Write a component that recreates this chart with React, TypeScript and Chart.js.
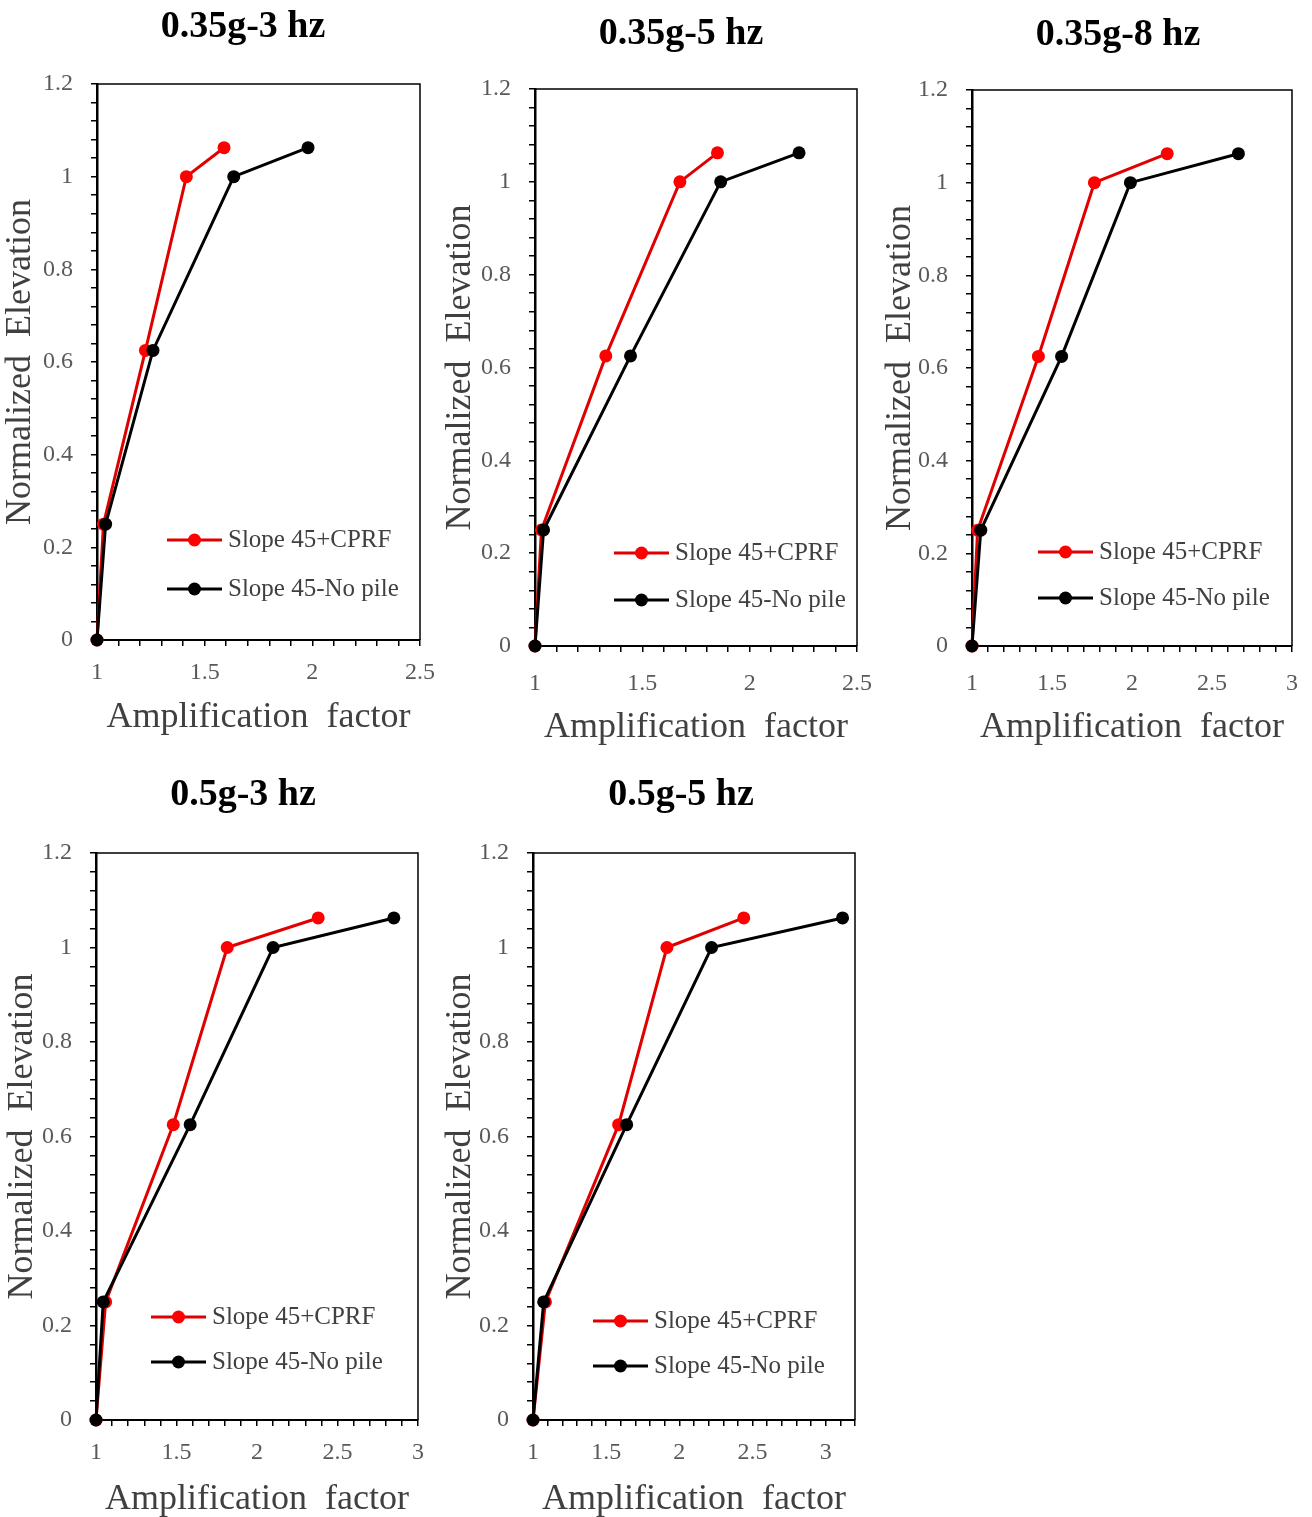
import React, { useEffect, useRef } from 'react';
import { Chart, registerables } from 'chart.js';

Chart.register(...registerables);

// ---------- data ----------
const SERIES_NAMES = ['Slope 45+CPRF', 'Slope 45-No pile'];
const TITLES = ['0.35g-3 hz', '0.35g-5 hz', '0.35g-8 hz', '0.5g-3 hz', '0.5g-5 hz'];

// normalized elevation of the measuring points (same for every panel)
const Y_VALUES = [0, 0.25, 0.625, 1.0, 1.0625];
const Y_TICKS = [0, 0.2, 0.4, 0.6, 0.8, 1, 1.2];

// amplification factors
const CPRF_035_3 = [1, 1.03, 1.225, 1.415, 1.59];
const NOPILE_035_3 = [1, 1.04, 1.26, 1.635, 1.98];
const CPRF_035_5 = [1, 1.03, 1.33, 1.675, 1.85];
const NOPILE_035_5 = [1, 1.04, 1.445, 1.865, 2.23];
const CPRF_035_8 = [1, 1.035, 1.415, 1.765, 2.22];
const NOPILE_035_8 = [1, 1.055, 1.56, 1.99, 2.665];
const CPRF_05_3 = [1, 1.06, 1.48, 1.815, 2.38];
const NOPILE_05_3 = [1, 1.045, 1.585, 2.1, 2.85];
const CPRF_05_5 = [1, 1.085, 1.585, 1.915, 2.44];
const NOPILE_05_5 = [1, 1.073, 1.64, 2.22, 3.115];

const X_TICKS_A = [1, 1.5, 2, 2.5];
const X_TICKS_B = [1, 1.5, 2, 2.5, 3];
const X_MAX = [2.5, 2.5, 3, 3, 3.2];

// ---------- style / layout ----------
const SERIF = '"Liberation Serif", "Times New Roman", serif';
const RED_LINE = '#E00000';
const RED_PT = '#FF0000';
const BLACK = '#000000';

type Panel = {
  title: string;
  cprf: number[];
  nopile: number[];
  xTicks: number[];
  xMax: number;
  plot: { l: number; t: number; r: number; b: number };
  titleCx: number;
  titleCy: number;
  yTitlePad: number;
  xTickPad: number;
  xTitlePad: number;
  legend: { x: number; y1: number; y2: number };
};

const PANELS: Panel[] = [
  { title: TITLES[0], cprf: CPRF_035_3, nopile: NOPILE_035_3, xTicks: X_TICKS_A, xMax: X_MAX[0],
    plot: { l: 97, t: 84, r: 420, b: 640 }, titleCx: 243, titleCy: 27, yTitlePad: 0, xTickPad: 12, xTitlePad: 9,
    legend: { x: 70, y1: 100, y2: 51 } },
  { title: TITLES[1], cprf: CPRF_035_5, nopile: NOPILE_035_5, xTicks: X_TICKS_A, xMax: X_MAX[1],
    plot: { l: 535, t: 89, r: 857, b: 646 }, titleCx: 681, titleCy: 34, yTitlePad: 2, xTickPad: 17, xTitlePad: 5,
    legend: { x: 79, y1: 93, y2: 46 } },
  { title: TITLES[2], cprf: CPRF_035_8, nopile: NOPILE_035_8, xTicks: X_TICKS_B, xMax: X_MAX[2],
    plot: { l: 972, t: 90, r: 1292, b: 646 }, titleCx: 1118, titleCy: 35, yTitlePad: 5, xTickPad: 17, xTitlePad: 5,
    legend: { x: 66, y1: 94, y2: 48 } },
  { title: TITLES[3], cprf: CPRF_05_3, nopile: NOPILE_05_3, xTicks: X_TICKS_B, xMax: X_MAX[3],
    plot: { l: 96, t: 853, r: 418, b: 1420 }, titleCx: 243, titleCy: 795, yTitlePad: 3, xTickPad: 12, xTitlePad: 7,
    legend: { x: 55, y1: 103, y2: 58 } },
  { title: TITLES[4], cprf: CPRF_05_5, nopile: NOPILE_05_5, xTicks: X_TICKS_B, xMax: X_MAX[4],
    plot: { l: 533, t: 853, r: 855, b: 1420 }, titleCx: 681, titleCy: 795, yTitlePad: 4, xTickPad: 12, xTitlePad: 7,
    legend: { x: 60, y1: 99, y2: 54 } },
];

const Y_AXIS_W = 97;
const X_AXIS_H = 108;
const TOP_H = 84;

const labelFrom = (list: number[]) => (v: number | string) => {
  const n = Number(v);
  const t = list.find((k) => Math.abs(k - n) < 1e-6);
  return t === undefined ? '' : String(t);
};

const framePlugin = {
  id: 'frame',
  beforeDatasetsDraw(chart: any) {
    const { ctx, chartArea } = chart;
    ctx.save();
    ctx.strokeStyle = '#000';
    ctx.lineWidth = 1.5;
    ctx.beginPath();
    ctx.moveTo(chartArea.left, chartArea.top);
    ctx.lineTo(chartArea.right, chartArea.top);
    ctx.lineTo(chartArea.right, chartArea.bottom);
    ctx.stroke();
    ctx.restore();
  },
};

const panelTitle = {
  id: 'panelTitle',
  afterDraw(chart: any, _args: any, opts: any) {
    const { ctx } = chart;
    ctx.save();
    ctx.font = `bold 38px ${SERIF}`;
    ctx.fillStyle = '#000';
    ctx.textAlign = 'center';
    ctx.textBaseline = 'middle';
    ctx.fillText(opts.text, opts.x, opts.y);
    ctx.restore();
  },
};

const insideLegend = {
  id: 'insideLegend',
  afterDraw(chart: any, _args: any, opts: any) {
    const { ctx, chartArea } = chart;
    const rows = [opts.y1, opts.y2];
    chart.data.datasets.forEach((ds: any, i: number) => {
      const y = chartArea.bottom - rows[i];
      const x0 = chartArea.left + opts.x;
      const x1 = x0 + 55;
      ctx.save();
      ctx.strokeStyle = ds.borderColor;
      ctx.lineWidth = 3;
      ctx.beginPath();
      ctx.moveTo(x0, y);
      ctx.lineTo(x1, y);
      ctx.stroke();
      ctx.fillStyle = ds.pointBackgroundColor;
      ctx.beginPath();
      ctx.arc((x0 + x1) / 2, y, 6.5, 0, Math.PI * 2);
      ctx.fill();
      ctx.fillStyle = '#404040';
      ctx.font = `25px ${SERIF}`;
      ctx.textBaseline = 'middle';
      ctx.textAlign = 'left';
      ctx.fillText(ds.label, x1 + 6, y);
      ctx.restore();
    });
  },
};

function PanelChart({ p }: { p: Panel }) {
  const ref = useRef<HTMLCanvasElement>(null);
  const left = p.plot.l - Y_AXIS_W;
  const top = p.plot.t - TOP_H;
  const width = Math.round(2 * (p.titleCx - left));
  const height = p.plot.b - p.plot.t + TOP_H + X_AXIS_H;
  const padRight = left + width - p.plot.r;

  useEffect(() => {
    if (!ref.current) return;
    const chart = new Chart(ref.current, {
      type: 'line',
      data: {
        datasets: [
          {
            label: SERIES_NAMES[0],
            data: p.cprf.map((x, j) => ({ x, y: Y_VALUES[j] })),
            borderColor: RED_LINE,
            backgroundColor: RED_PT,
            pointBackgroundColor: RED_PT,
            pointBorderColor: RED_PT,
            borderWidth: 3,
            pointRadius: 6.5,
            pointHoverRadius: 6.5,
            pointBorderWidth: 0,
            tension: 0,
            clip: false as any,
            order: 2,
          },
          {
            label: SERIES_NAMES[1],
            data: p.nopile.map((x, j) => ({ x, y: Y_VALUES[j] })),
            borderColor: BLACK,
            backgroundColor: BLACK,
            pointBackgroundColor: BLACK,
            pointBorderColor: BLACK,
            borderWidth: 3,
            pointRadius: 6.5,
            pointHoverRadius: 6.5,
            pointBorderWidth: 0,
            tension: 0,
            clip: false as any,
            order: 1,
          },
        ],
      },
      options: {
        animation: false,
        responsive: true,
        maintainAspectRatio: false,
        layout: { padding: { left: 0, top: TOP_H, bottom: 0, right: padRight } },
        plugins: {
          legend: { display: false },
          tooltip: { enabled: false },
          title: { display: false },
          panelTitle: { text: p.title, x: p.titleCx - left, y: p.titleCy - top },
          insideLegend: p.legend,
        } as any,
        scales: {
          x: {
            type: 'linear',
            min: 1,
            max: p.xMax,
            afterFit: (s: any) => { s.height = X_AXIS_H; },
            border: { display: true, color: '#000', width: 2 },
            grid: { display: true, drawOnChartArea: false, drawTicks: true, tickLength: 6, color: '#000', lineWidth: 1.5 },
            ticks: {
              stepSize: 0.1,
              autoSkip: false,
              maxRotation: 0,
              padding: p.xTickPad,
              color: '#595959',
              font: { family: SERIF, size: 24 },
              callback: labelFrom(p.xTicks),
            },
            title: {
              display: true,
              text: 'Amplification  factor',
              color: '#404040',
              font: { family: SERIF, size: 36, lineHeight: 1.2 },
              padding: { top: 0, bottom: p.xTitlePad },
            },
          },
          y: {
            type: 'linear',
            min: 0,
            max: 1.2,
            afterFit: (s: any) => { s.width = Y_AXIS_W; },
            border: { display: true, color: '#000', width: 2.5 },
            grid: { display: true, drawOnChartArea: false, drawTicks: true, tickLength: 6, color: '#000', lineWidth: 1.5 },
            ticks: {
              stepSize: 0.04,
              autoSkip: false,
              padding: 18,
              color: '#595959',
              font: { family: SERIF, size: 24 },
              callback: labelFrom(Y_TICKS),
            },
            title: {
              display: true,
              text: 'Normalized  Elevation',
              color: '#404040',
              font: { family: SERIF, size: 36, lineHeight: 1.2 },
              padding: { top: p.yTitlePad - 1, bottom: 0 },
            },
          },
        },
      } as any,
      plugins: [framePlugin, panelTitle, insideLegend],
    });
    return () => chart.destroy();
  }, []);

  return (
    <div style={{ position: 'absolute', left, top, width, height }}>
      <canvas ref={ref} style={{ display: 'block' }} />
    </div>
  );
}

export default function App() {
  return (
    <div
      style={{
        position: 'absolute',
        left: 0,
        top: 0,
        width: 1312,
        height: 1517,
        overflow: 'hidden',
        background: '#fff',
      }}
    >
      {PANELS.map((p, i) => (
        <PanelChart key={i} p={p} />
      ))}
    </div>
  );
}
